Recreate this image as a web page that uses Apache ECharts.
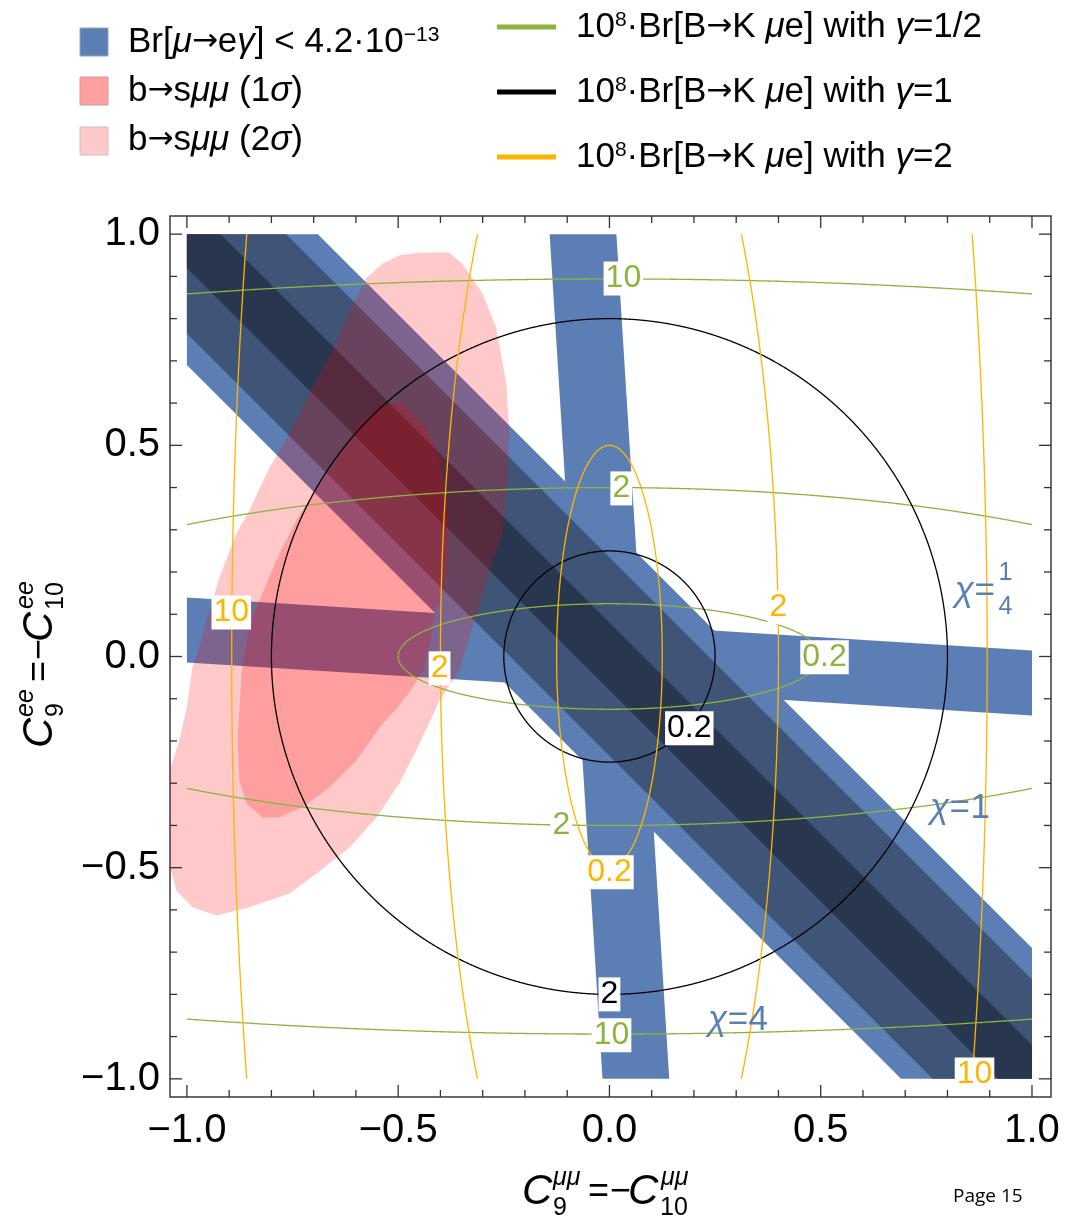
<!DOCTYPE html>
<html><head><meta charset="utf-8">
<script src="https://cdn.jsdelivr.net/npm/echarts@6/dist/echarts.min.js"></script>
<style>html,body{margin:0;padding:0;background:#fff}#c{width:1071px;height:1217px}</style>
</head><body><div id="c"></div>
<script>
const FONT = '"Liberation Sans", Arial, Helvetica, sans-serif';
const ARROW_FONT = '"DejaVu Sans", sans-serif';

// ---- axis ticks ----
const majorTicks = [-1, -0.5, 0, 0.5, 1];
const minorTicks = [-1, -0.9, -0.8, -0.7, -0.6, -0.5, -0.4, -0.3, -0.2, -0.1, 0, 0.1, 0.2, 0.3, 0.4, 0.5, 0.6, 0.7, 0.8, 0.9, 1];
const tickLabels = ['\u22121.0', '\u22120.5', '0.0', '0.5', '1.0'];
const X_MIN = -1.04, X_MAX = 1.045, Y_MIN = -1.043, Y_MAX = 1.043;

// ---- Br[mu->e gamma] allowed bands: |nx*x + ny*y| < halfWidth ----
const bandNx = [0.0625, 1, 1, 1, 1];
const bandNy = [1, 0.0625, 1, 1, 1];
const bandHalfWidth = [0.077, 0.079, 0.31, 0.235, 0.08];
const bandShade = [0, 0, 0, 1, 2];
const blueShades = ['#5b7fb5', '#3f5577', '#293650'];

// ---- b -> s mu mu regions (boundary) ----
const sigma2Boundary = [[-0.575,0.897],[-0.537,0.930],[-0.497,0.950],[-0.45,0.956],[-0.40,0.957],[-0.379,0.956],[-0.348,0.930],[-0.30,0.859],[-0.268,0.779],[-0.244,0.646],[-0.237,0.528],[-0.241,0.409],[-0.253,0.291],[-0.277,0.227],[-0.315,0.10],[-0.355,-0.033],[-0.402,-0.104],[-0.457,-0.222],[-0.497,-0.30],[-0.551,-0.381],[-0.615,-0.452],[-0.693,-0.514],[-0.757,-0.561],[-0.852,-0.594],[-0.93,-0.613],[-0.987,-0.594],[-1.025,-0.554],[-1.046,-0.476],[-1.05,-0.40],[-1.05,-0.30],[-1.018,-0.199],[-1.0,-0.12],[-0.987,-0.026],[-0.975,0.01],[-0.955,0.08],[-0.923,0.187],[-0.883,0.291],[-0.852,0.346],[-0.805,0.447],[-0.757,0.528],[-0.703,0.637],[-0.646,0.741],[-0.615,0.819]];
const sigma1Boundary = [[-0.551,0.587],[-0.514,0.599],[-0.49,0.599],[-0.433,0.542],[-0.402,0.464],[-0.386,0.369],[-0.383,0.291],[-0.386,0.211],[-0.398,0.133],[-0.414,0.105],[-0.425,0.03],[-0.44,-0.03],[-0.47,-0.08],[-0.505,-0.125],[-0.537,-0.159],[-0.599,-0.246],[-0.663,-0.31],[-0.727,-0.357],[-0.781,-0.381],[-0.821,-0.381],[-0.859,-0.348],[-0.876,-0.293],[-0.88,-0.199],[-0.871,-0.04],[-0.859,0.038],[-0.845,0.092],[-0.812,0.173],[-0.781,0.244],[-0.741,0.322],[-0.693,0.40],[-0.646,0.464],[-0.599,0.542]];

// ---- 10^8 Br[B->K mu e] contours: semi-axes (x, y) of each level ----
const greenLevels = [0.2, 2, 10];
const greenAx = [0.5, 1.6, 3.58];
const greenAy = [0.125, 0.4, 0.894];
const blackLevels = [0.2, 2];
const blackAx = [0.25, 0.8];
const blackAy = [0.25, 0.8];
const orangeLevels = [0.2, 2, 10];
const orangeAx = [0.125, 0.4, 0.894];
const orangeAy = [0.5, 1.6, 3.58];

// contour label positions
const greenLabels = [[0.033, 0.895, '10'], [0.028, 0.398, '2'], [0.509, -0.002, '0.2'], [-0.114, -0.40, '2'], [0.005, -0.897, '10']];
const orangeLabels = [[-0.895, 0.104, '10'], [-0.402, -0.028, '2'], [0.40, 0.116, '2'], [0.0, -0.511, '0.2'], [0.864, -0.99, '10']];
const blackLabels = [[0.189, -0.17, '0.2'], [0.0, -0.80, '2']];
// chi labels: position of the '=' end, numerator, denominator
const chiLabels = [[0.911, 0.154, '1', '4'], [0.852, -0.36, '1', ''], [0.327, -0.862, '4', '']];

const GREEN = '#8cb43e', ORANGE = '#ffb400', BLACK = '#000000', CHI = '#5b7fb5';

const SQUARE = [[-1,-1],[1,-1],[1,1],[-1,1]];
function clipHalf(poly, nx, ny, c) { // keep nx*x+ny*y <= c
  const out = [];
  for (let i = 0; i < poly.length; i++) {
    const a = poly[i], b = poly[(i + 1) % poly.length];
    const fa = nx * a[0] + ny * a[1] - c, fb = nx * b[0] + ny * b[1] - c;
    if (fa <= 0) out.push(a);
    if ((fa < 0 && fb > 0) || (fa > 0 && fb < 0)) {
      const t = fa / (fa - fb);
      out.push([a[0] + t * (b[0] - a[0]), a[1] + t * (b[1] - a[1])]);
    }
  }
  return out;
}
function inSq(p) { return Math.abs(p[0]) <= 1 && Math.abs(p[1]) <= 1; }
function edgePt(pin, pout) {
  let lo = 0, hi = 1;
  for (let k = 0; k < 30; k++) {
    const m = (lo + hi) / 2;
    const q = [pin[0] + m * (pout[0] - pin[0]), pin[1] + m * (pout[1] - pin[1])];
    if (inSq(q)) lo = m; else hi = m;
  }
  return [pin[0] + lo * (pout[0] - pin[0]), pin[1] + lo * (pout[1] - pin[1])];
}
function ellipseRuns(ax, ay) {
  const N = 4000, runs = [];
  let cur = null, prev = null;
  for (let k = 0; k <= N; k++) {
    const t = 2 * Math.PI * k / N;
    const p = [ax * Math.cos(t), ay * Math.sin(t)];
    if (inSq(p)) {
      if (!cur) { cur = []; if (prev) cur.push(edgePt(p, prev)); }
      cur.push(p);
    } else if (cur) {
      cur.push(edgePt(prev, p)); runs.push(cur); cur = null;
    }
    prev = p;
  }
  if (cur) runs.push(cur);
  return runs;
}

const contourData = [];
greenLevels.forEach((l, i) => contourData.push([greenAx[i], greenAy[i], 0, l]));
blackLevels.forEach((l, i) => contourData.push([blackAx[i], blackAy[i], 1, l]));
orangeLevels.forEach((l, i) => contourData.push([orangeAx[i], orangeAy[i], 2, l]));
const contourColors = [GREEN, BLACK, ORANGE];
const contourWidths = [1.3, 1.3, 1.3];

const chart = echarts.init(document.getElementById('c'), null, { renderer: 'canvas' });

const labelFmt = v => { const i = majorTicks.findIndex(t => Math.abs(t - v) < 1e-6); return i >= 0 ? tickLabels[i] : ''; };

function labelSeries(data, color) {
  return {
    type: 'scatter', data: data, symbolSize: 0, silent: true, z: 5,
    itemStyle: { opacity: 1 },
    label: { show: true, position: 'inside', formatter: p => p.data[2], fontSize: 32, fontFamily: FONT, color: color,
      backgroundColor: '#ffffff', padding: [2, 2, 0, 2], lineHeight: 32, opacity: 1 }
  };
}

function legendText(x, y, txt) {
  return { type: 'text', x: x, y: y, style: { text: txt, fontSize: 35, fontFamily: FONT, fill: '#000', verticalAlign: 'middle',
    rich: { i: { fontStyle: 'italic', fontSize: 35, fontFamily: FONT, verticalAlign: 'middle' },
            a: { fontSize: 31, fontFamily: ARROW_FONT, verticalAlign: 'middle' },
            sup: { fontSize: 21, fontFamily: FONT, verticalAlign: 'top', padding: [0, 0, 14, 0] } } } };
}
function titlePieces(sup) {
  const big = 42, small = 25;
  return [
    { type: 'text', x: 0, y: 0, style: { text: 'C', fontSize: big, fontStyle: 'italic', fontFamily: FONT, fill: '#000', verticalAlign: 'middle' } },
    { type: 'text', x: 31, y: -14, style: { text: sup, fontSize: small, fontStyle: 'italic', fontFamily: FONT, fill: '#000', verticalAlign: 'middle' } },
    { type: 'text', x: 31, y: 16, style: { text: '9', fontSize: small, fontFamily: FONT, fill: '#000', verticalAlign: 'middle' } },
    { type: 'text', x: 66, y: 0, style: { text: '=', fontSize: 36, fontFamily: FONT, fill: '#000', verticalAlign: 'middle' } },
    { type: 'text', x: 88, y: 0, style: { text: '\u2212', fontSize: 36, fontFamily: FONT, fill: '#000', verticalAlign: 'middle' } },
    { type: 'text', x: 106, y: 0, style: { text: 'C', fontSize: big, fontStyle: 'italic', fontFamily: FONT, fill: '#000', verticalAlign: 'middle' } },
    { type: 'text', x: 139, y: -14, style: { text: sup, fontSize: small, fontStyle: 'italic', fontFamily: FONT, fill: '#000', verticalAlign: 'middle' } },
    { type: 'text', x: 138, y: 16, style: { text: '10', fontSize: small, fontFamily: FONT, fill: '#000', verticalAlign: 'middle' } }
  ];
}

const option = {
  animation: false,
  backgroundColor: '#ffffff',
  grid: { left: 170, top: 216, width: 881, height: 881, show: true, borderColor: '#3a3a3a', borderWidth: 1.5, backgroundColor: 'transparent' },
  xAxis: { type: 'value', min: X_MIN, max: X_MAX, position: 'bottom',
    axisLine: { show: false, onZero: false }, splitLine: { show: false }, axisTick: { show: false },
    axisLabel: { show: true, customValues: majorTicks, margin: 14, fontSize: 40, fontFamily: FONT, color: '#000', formatter: labelFmt } },
  yAxis: { type: 'value', min: Y_MIN, max: Y_MAX, position: 'left',
    axisLine: { show: false, onZero: false }, splitLine: { show: false }, axisTick: { show: false },
    axisLabel: { show: true, customValues: majorTicks, margin: 10, fontSize: 40, fontFamily: FONT, color: '#000', formatter: labelFmt } },
  graphic: [
    { type: 'rect', shape: { x: 80, y: 28, width: 28, height: 28 }, style: { fill: blueShades[0], stroke: '#9aa4b4', lineWidth: 1 } },
    { type: 'rect', shape: { x: 80, y: 77, width: 28, height: 28 }, style: { fill: '#ff9f9f', stroke: '#c9a0a0', lineWidth: 1 } },
    { type: 'rect', shape: { x: 80, y: 127, width: 28, height: 28 }, style: { fill: '#ffc9c9', stroke: '#cfc0c0', lineWidth: 1 } },
    legendText(128, 42, 'Br[{i|\u03bc}{a|\u2192}e{i|\u03b3}] < 4.2\u00b710{sup|\u221213}'),
    legendText(128, 91, 'b{a|\u2192}s{i|\u03bc\u03bc} (1{i|\u03c3})'),
    legendText(128, 140, 'b{a|\u2192}s{i|\u03bc\u03bc} (2{i|\u03c3})'),
    { type: 'line', shape: { x1: 497, y1: 27, x2: 556, y2: 27 }, style: { stroke: GREEN, lineWidth: 5 } },
    { type: 'line', shape: { x1: 497, y1: 92, x2: 556, y2: 92 }, style: { stroke: BLACK, lineWidth: 5 } },
    { type: 'line', shape: { x1: 497, y1: 157, x2: 556, y2: 157 }, style: { stroke: ORANGE, lineWidth: 5 } },
    legendText(576, 27, '10{sup|8}\u00b7Br[B{a|\u2192}K {i|\u03bc}e] with {i|\u03b3}=1/2'),
    legendText(576, 92, '10{sup|8}\u00b7Br[B{a|\u2192}K {i|\u03bc}e] with {i|\u03b3}=1'),
    legendText(576, 157, '10{sup|8}\u00b7Br[B{a|\u2192}K {i|\u03bc}e] with {i|\u03b3}=2'),
    { type: 'group', x: 522, y: 1192, children: titlePieces('\u03bc\u03bc') },
    { type: 'group', x: 40, y: 748, rotation: Math.PI / 2, children: titlePieces('ee') },
    { type: 'text', x: 953, y: 1197, style: { text: 'Page 15', fontSize: 19, fontFamily: '"Open Sans", sans-serif', fill: '#000', verticalAlign: 'middle' } }
  ],
  series: [
    { // Br[mu->e gamma] bands
      type: 'custom', silent: true, clip: true, z: 2,
      data: bandNx.map((nx, i) => [nx, bandNy[i], bandHalfWidth[i], bandShade[i]]),
      encode: { x: -1, y: -1 },
      renderItem: (params, api) => {
        const nx = api.value(0), ny = api.value(1), w = api.value(2), s = api.value(3);
        let poly = clipHalf(SQUARE, nx, ny, w);
        poly = clipHalf(poly, -nx, -ny, w);
        return { type: 'polygon', shape: { points: poly.map(p => api.coord(p)) }, style: { fill: blueShades[s] } };
      }
    },
    { // b -> s mu mu 2 sigma, then 1 sigma
      type: 'custom', silent: true, clip: true, z: 2,
      data: [[0], [1]],
      encode: { x: -1, y: -1 },
      renderItem: (params, api) => {
        const region = api.value(0) === 0 ? sigma2Boundary : sigma1Boundary;
        return { type: 'polygon', shape: { points: region.map(p => api.coord(p)) }, style: { fill: 'rgba(255,0,0,0.21)' } };
      }
    },
    { // contours
      type: 'custom', silent: true, clip: true, z: 3,
      data: contourData,
      encode: { x: -1, y: -1 },
      renderItem: (params, api) => {
        const ax = api.value(0), ay = api.value(1), c = api.value(2);
        const runs = ellipseRuns(ax, ay);
        return { type: 'group', children: runs.map(r => ({ type: 'polyline', shape: { points: r.map(p => api.coord(p)) },
          style: { stroke: contourColors[c], lineWidth: contourWidths[c], fill: null } })) };
      }
    },
    labelSeries(greenLabels, GREEN),
    labelSeries(orangeLabels, ORANGE),
    labelSeries(blackLabels, BLACK),
    { // chi labels
      type: 'custom', silent: true, z: 6,
      data: chiLabels,
      encode: { x: 0, y: 1 },
      renderItem: (params, api) => {
        const item = chiLabels[params.dataIndex];
        const p = api.coord([api.value(0), api.value(1)]);
        const children = [{ type: 'text', x: p[0], y: p[1], style: { text: '\u03c7=', fontSize: 35, fontStyle: 'italic', fontFamily: FONT, fill: CHI, align: 'right', verticalAlign: 'middle' } }];
        if (item[3]) {
          children.push({ type: 'text', x: p[0] + 4, y: p[1] - 18, style: { text: item[2], fontSize: 25, fontFamily: FONT, fill: CHI, align: 'left', verticalAlign: 'middle' } });
          children.push({ type: 'text', x: p[0] + 4, y: p[1] + 16, style: { text: item[3], fontSize: 25, fontFamily: FONT, fill: CHI, align: 'left', verticalAlign: 'middle' } });
        } else {
          children.push({ type: 'text', x: p[0] + 1, y: p[1], style: { text: item[2], fontSize: 35, fontFamily: FONT, fill: CHI, align: 'left', verticalAlign: 'middle' } });
        }
        return { type: 'group', children: children };
      }
    },
    { // frame ticks (inside, all four sides)
      type: 'custom', silent: true, clip: false, z: 7,
      data: minorTicks.map(v => [v]),
      encode: { x: -1, y: -1 },
      renderItem: (params, api) => {
        const v = api.value(0);
        const len = majorTicks.some(t => Math.abs(t - v) < 1e-6) ? 12 : 7;
        const b = api.coord([v, Y_MIN]), t = api.coord([v, Y_MAX]);
        const l = api.coord([X_MIN, v]), r = api.coord([X_MAX, v]);
        const st = { stroke: '#333', lineWidth: 1.3 };
        return { type: 'group', children: [
          { type: 'line', shape: { x1: b[0], y1: b[1], x2: b[0], y2: b[1] - len }, style: st },
          { type: 'line', shape: { x1: t[0], y1: t[1], x2: t[0], y2: t[1] + len }, style: st },
          { type: 'line', shape: { x1: l[0], y1: l[1], x2: l[0] + len, y2: l[1] }, style: st },
          { type: 'line', shape: { x1: r[0], y1: r[1], x2: r[0] - len, y2: r[1] }, style: st }
        ] };
      }
    }
  ]
};
chart.setOption(option);
</script></body></html>
